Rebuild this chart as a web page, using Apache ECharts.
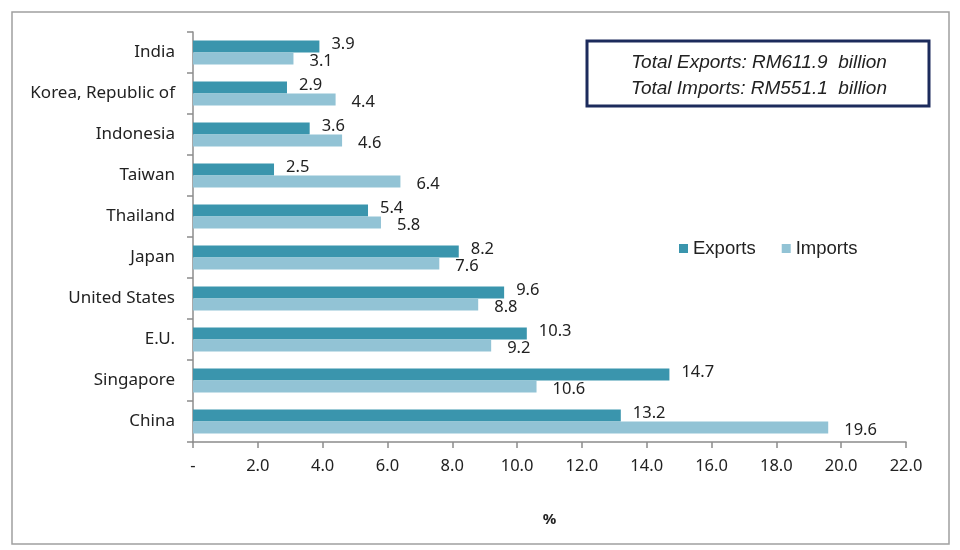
<!DOCTYPE html>
<html>
<head>
<meta charset="utf-8">
<title>Exports and Imports by country</title>
<script src="https://cdn.jsdelivr.net/npm/echarts@6/dist/echarts.min.js"></script>
<style>
  html, body { margin: 0; padding: 0; background: #fff; }
  #trade_chart { width: 960px; height: 550px; }
</style>
</head>
<body>
<div id="trade_chart"></div>
<script>
// data ---------------------------------------
var countries = ['India', 'Korea, Republic of', 'Indonesia', 'Taiwan', 'Thailand',
                 'Japan', 'United States', 'E.U.', 'Singapore', 'China'];
var exports_pct = [3.9, 2.9, 3.6, 2.5, 5.4, 8.2, 9.6, 10.3, 14.7, 13.2];
var imports_pct = [3.1, 4.4, 4.6, 6.4, 5.8, 7.6, 8.8, 9.2, 10.6, 19.6];
var totals_text = ['Total Exports: RM611.9  billion', 'Total Imports: RM551.1  billion'];

var EXPORT_COLOR = '#3a95ad';
var IMPORT_COLOR = '#92c3d5';
var FONT = '"Noto Sans", "Open Sans", sans-serif';
var ARIAL = '"Liberation Sans", Arial, sans-serif';

var trade_chart = echarts.init(document.getElementById('trade_chart'));

function valueLabel(dist, dy) {
  return {
    show: true,
    position: 'right',
    distance: dist,
    offset: [0, dy],
    fontSize: 16.5,
    color: '#222',
    formatter: function (p) { return p.value.toFixed(1); }
  };
}

var option = {
  animation: false,
  backgroundColor: '#fff',
  textStyle: { fontFamily: FONT },
  grid: { left: 193, right: 54, top: 32, bottom: 108, containLabel: false },
  legend: {
    left: 674,
    top: 234,
    itemWidth: 9,
    itemHeight: 9,
    itemGap: 26,
    icon: 'rect',
    textStyle: { fontFamily: ARIAL, fontSize: 18.5, color: '#222' },
    data: ['Exports', 'Imports']
  },
  xAxis: {
    type: 'value',
    min: 0,
    max: 22,
    interval: 2,
    name: '%',
    nameLocation: 'middle',
    nameGap: 70,
    nameTextStyle: { fontSize: 15, fontWeight: 'bold', color: '#222' },
    axisLine: { show: true, lineStyle: { color: '#8c8c8c', width: 1.5 } },
    axisTick: { show: true, length: 6, lineStyle: { color: '#8c8c8c', width: 1.5 } },
    splitLine: { show: false },
    axisLabel: {
      margin: 16,
      fontSize: 16.5,
      color: '#222',
      formatter: function (v) { return v === 0 ? '-' : v.toFixed(1); }
    }
  },
  yAxis: {
    type: 'category',
    inverse: true,
    data: countries,
    axisLine: { show: true, lineStyle: { color: '#8c8c8c', width: 1.5 } },
    axisTick: { show: true, length: 6, lineStyle: { color: '#8c8c8c', width: 1.5 } },
    axisLabel: { margin: 18, fontSize: 17, color: '#222' }
  },
  series: [
    {
      name: 'Exports',
      type: 'bar',
      data: exports_pct,
      barWidth: 12,
      barGap: '0%',
      itemStyle: { color: EXPORT_COLOR },
      label: valueLabel(12, -2)
    },
    {
      name: 'Imports',
      type: 'bar',
      data: imports_pct,
      barWidth: 12,
      barGap: '0%',
      itemStyle: { color: IMPORT_COLOR },
      label: valueLabel(16, 3)
    }
  ],
  graphic: [
    // 外框
    {
      type: 'rect',
      shape: { x: 12, y: 12, width: 937, height: 532 },
      style: { fill: 'none', stroke: '#a0a0a0', lineWidth: 1.5 },
      silent: true
    },
    // 合计文本框
    {
      type: 'rect',
      shape: { x: 587, y: 41, width: 342, height: 65 },
      style: { fill: '#fff', stroke: '#1c2b5c', lineWidth: 3 },
      silent: true
    },
    {
      type: 'text',
      x: 759,
      y: 50,
      style: {
        text: totals_text.join('\n'),
        align: 'center',
        fontFamily: ARIAL,
        fontStyle: 'italic',
        fontSize: 19,
        lineHeight: 26,
        fill: '#222'
      },
      silent: true
    }
  ]
};

trade_chart.setOption(option);
</script>
</body>
</html>
